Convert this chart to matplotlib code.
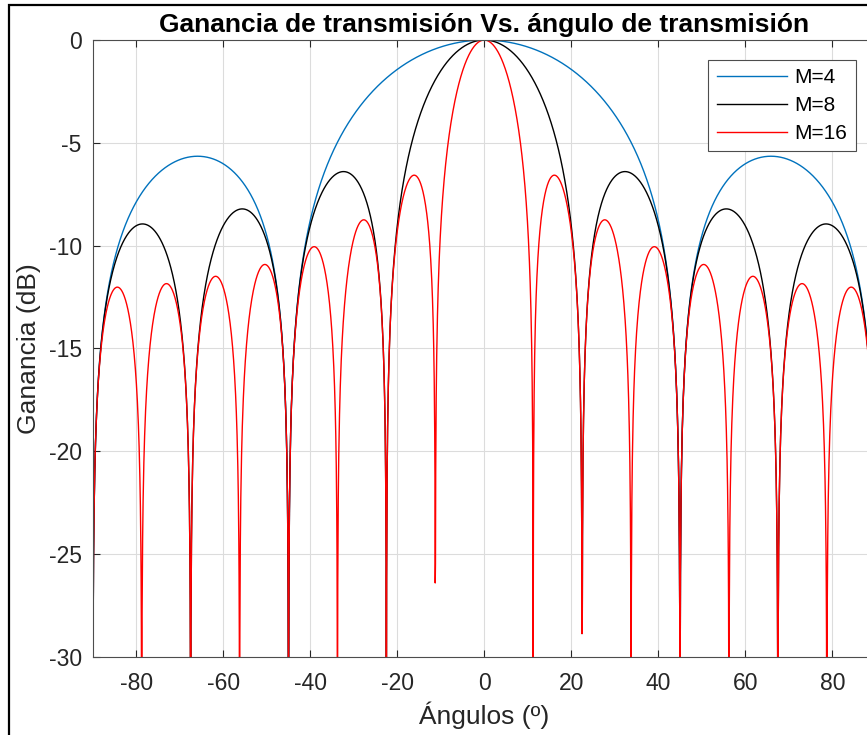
import numpy as np
import matplotlib
matplotlib.use("Agg")
import matplotlib.pyplot as plt
from matplotlib.patches import Rectangle

plt.rcParams['font.family'] = ['Liberation Sans', 'DejaVu Sans']
plt.rcParams['axes.unicode_minus'] = False

# Número de elementos del arreglo y estilo de cada curva
M_VALUES = [4, 8, 16]
LABELS = ['M=4', 'M=8', 'M=16']
COLORS = ['#0072BD', '#000000', '#FF0000']

# Barrido angular (rad), paso de 0.001
THETA_START = -np.pi / 2
THETA_STOP = np.pi / 2
THETA_STEP = 0.001

X_TICKS = [-80, -60, -40, -20, 0, 20, 40, 60, 80]
Y_TICKS = [-30, -25, -20, -15, -10, -5, 0]

theta = np.arange(THETA_START, THETA_STOP, THETA_STEP)
ang = np.degrees(theta)

fig = plt.figure(figsize=(8.67, 7.35), dpi=100)
ax = fig.add_axes([0.1070, 0.1065, 0.9031, 0.839])

ax_color = '#262626'
with np.errstate(divide='ignore', invalid='ignore'):
    for M, lab, col in zip(M_VALUES, LABELS, COLORS):
        af = np.sin(M * theta) / (M * np.sin(theta))
        gain = 10 * np.log10(np.abs(af))
        ax.plot(ang, gain, color=col, lw=1.0, label=lab)

ax.set_xlim(-90, 90)
ax.set_ylim(-30, 0)
ax.set_xticks(X_TICKS)
ax.set_yticks(Y_TICKS)
ax.grid(True, color='#dcdcdc', lw=0.8)
ax.set_axisbelow(True)
ax.tick_params(direction='in', length=5, width=0.8, colors=ax_color,
               labelsize=16.5, top=True, right=True)
ax.tick_params(axis='x', pad=11)
ax.tick_params(axis='y', pad=8)
for s in ax.spines.values():
    s.set_color('#4d4d4d')
    s.set_linewidth(0.8)

ax.set_title('Ganancia de transmisión Vs. ángulo de transmisión',
             fontsize=19, fontweight='bold', color='black', pad=6)
ax.set_xlabel('Ángulos (º)', fontsize=19, color=ax_color, labelpad=5)
ax.set_ylabel('Ganancia (dB)', fontsize=19, color=ax_color)
ax.yaxis.set_label_coords(-0.066, 0.5)

leg = ax.legend(loc='upper right', bbox_to_anchor=(0.9747, 0.9676),
                borderaxespad=0, fancybox=False, framealpha=1,
                edgecolor='#4d4d4d', fontsize=15, handlelength=3.4,
                labelspacing=0.42, borderpad=0.4, handletextpad=0.35)
leg.get_frame().set_linewidth(0.8)

# Marco de la ventana
fig.patches.append(Rectangle((8.7 / 867, -0.1), 1.2, 1.1 - 5 / 735,
                             transform=fig.transFigure, fill=False,
                             edgecolor='black', lw=1.6))

fig.savefig('out.png', dpi=100, facecolor='white')
